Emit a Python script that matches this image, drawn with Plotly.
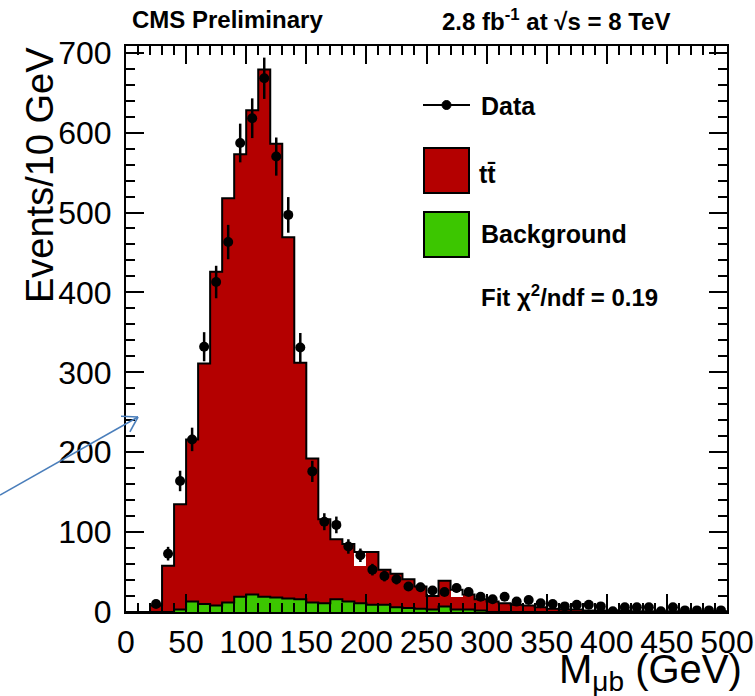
import numpy as np
import plotly.graph_objects as go

# ---------------- data ----------------
bin_edges = list(range(0, 510, 10))          # 0 .. 500 GeV, 10 GeV bins
stack_total = [0, 0, 8, 58, 135, 216, 311, 426, 518, 573,
               628, 679, 586, 469, 312, 192, 116, 91, 85, 75,
               75, 53, 48, 41, 32, 20, 39, 28, 22, 16,
               13, 11, 9, 8, 6, 4, 3, 3, 2, 2,
               2, 2, 1, 1, 1, 1, 1, 1, 1, 1]
background = [0, 0, 0, 0, 3, 13, 10, 8, 12, 19,
              22, 19, 18, 17, 16, 12, 11, 16, 13, 11,
              9, 9, 6, 5, 4, 3, 7, 3, 3, 2,
              0, 0, 0, 0, 0, 0, 0, 0, 0, 0,
              0, 0, 0, 0, 0, 0, 0, 0, 0, 0]
data_counts = [None, None, 10, 73, 164, 216, 332, 413, 463, 587,
               618, 668, 570, 497, 331, 176, 113, 109, 82, 71,
               53, 45, 41, 32, 31, 27, 25, 30, 25, 19,
               16, 19, 13, 15, 11, 10, 7, 9, 9, 7,
               1, 6, 6, 6, 1, 6, 2, 2, 2, 2]
gap_bins = [19, 27]          # bins where the ttbar fill stops below its outline
gap_fill = [57, 19]
x_ticks = [0, 50, 100, 150, 200, 250, 300, 350, 400, 450, 500]
y_ticks = [0, 100, 200, 300, 400, 500, 600, 700]

RED = "#b40000"
GREEN = "#3cc600"
FONT = "Liberation Sans, Arial, sans-serif"

centers = [e + 5 for e in bin_edges[:-1]]
step_x = bin_edges
step_tot = stack_total + [stack_total[-1]]
step_bkg = background + [background[-1]]
errs = [np.sqrt(v) if v is not None else None for v in data_counts]

fig = go.Figure()
fig.add_trace(go.Bar(x=centers, y=stack_total, width=10, marker=dict(color=RED, line=dict(width=0)),
                     hoverinfo="skip"))
fig.add_trace(go.Bar(x=[centers[i] for i in gap_bins],
                     y=[stack_total[i] - f for i, f in zip(gap_bins, gap_fill)],
                     base=gap_fill, width=10, marker=dict(color="white", line=dict(width=0)),
                     hoverinfo="skip"))
fig.add_trace(go.Bar(x=centers, y=background, width=10, marker=dict(color=GREEN, line=dict(width=0)),
                     hoverinfo="skip"))
fig.add_trace(go.Scatter(x=step_x, y=step_tot, mode="lines", line=dict(shape="hv", color="black", width=2)))
fig.add_trace(go.Scatter(x=step_x, y=step_bkg, mode="lines", line=dict(shape="hv", color="black", width=2)))
fig.add_trace(go.Scatter(x=centers, y=data_counts, mode="markers",
                         marker=dict(color="black", size=10, symbol="circle"),
                         error_y=dict(type="data", array=errs, visible=True, thickness=2.5, width=0,
                                      color="black")))

# ---------------- layout geometry ----------------
W, H = 755, 696
L, R, T, B = 126, 727, 46, 612


def px(x):
    return (x - L) / (R - L)


def py(y):
    return (B - y) / (B - T)


shapes = []
# legend: data line + marker
shapes.append(dict(type="line", xref="paper", yref="paper", x0=px(423), x1=px(470), y0=py(105), y1=py(105),
                   line=dict(color="black", width=2)))
shapes.append(dict(type="circle", xref="paper", yref="paper", x0=px(442), x1=px(451), y0=py(109.5), y1=py(100.5),
                   fillcolor="black", line=dict(color="black", width=1)))
shapes.append(dict(type="rect", xref="paper", yref="paper", x0=px(424), x1=px(469), y0=py(193), y1=py(148),
                   fillcolor=RED, line=dict(color="black", width=2)))
shapes.append(dict(type="rect", xref="paper", yref="paper", x0=px(424), x1=px(469), y0=py(257), y1=py(212),
                   fillcolor=GREEN, line=dict(color="black", width=2)))

# blue arrow (annotation drawn on the slide)
tail = np.array([0.0, 495.0])
tip = np.array([138.0, 417.0])
d = (tip - tail) / np.linalg.norm(tip - tail)
ARROW = "#4a7ebb"
shapes.append(dict(type="line", xref="paper", yref="paper", x0=px(tail[0]), y0=py(tail[1]),
                   x1=px(tip[0]), y1=py(tip[1]), line=dict(color=ARROW, width=1.5)))
for ang in (np.radians(32), -np.radians(32)):
    rot = np.array([[np.cos(ang), -np.sin(ang)], [np.sin(ang), np.cos(ang)]])
    back = rot @ (-d) * 17
    p = tip + back
    shapes.append(dict(type="line", xref="paper", yref="paper", x0=px(tip[0]), y0=py(tip[1]),
                       x1=px(p[0]), y1=py(p[1]), line=dict(color=ARROW, width=1.6)))

annotations = [
    dict(text="<b>CMS Preliminary</b>", x=px(130), y=py(20), xanchor="left", yanchor="middle",
         font=dict(family=FONT, size=24, color="black")),
    dict(text="<b>2.8 fb<sup>-1</sup> at √s = 8 TeV</b>", x=px(440), y=py(20), xanchor="left", yanchor="middle",
         font=dict(family=FONT, size=24, color="black")),
    dict(text="<b>Data</b>", x=px(479), y=py(106), xanchor="left", yanchor="middle",
         font=dict(family=FONT, size=25, color="black")),
    dict(text="<b>tt\u0304</b>", x=px(477), y=py(174), xanchor="left", yanchor="middle",
         font=dict(family=FONT, size=25, color="black")),
    dict(text="<b>Background</b>", x=px(479), y=py(234), xanchor="left", yanchor="middle",
         font=dict(family=FONT, size=25, color="black")),
    dict(text="<b>Fit χ<sup>2</sup>/ndf = 0.19</b>", x=px(479), y=py(296), xanchor="left", yanchor="middle",
         font=dict(family=FONT, size=24, color="black")),
    dict(text="M<sub>μb</sub> (GeV)", x=px(744), y=py(672), xanchor="right", yanchor="middle",
         font=dict(family=FONT, size=40, color="black")),
    dict(text="Events/10 GeV", x=px(40), y=py(45), xanchor="center", yanchor="top", textangle=-90,
         font=dict(family=FONT, size=38, color="black")),
]
for a in annotations:
    a.update(xref="paper", yref="paper", showarrow=False)

axis_common = dict(showline=True, linecolor="black", linewidth=2, mirror="allticks", ticks="inside",
                   tickcolor="black", tickwidth=1.5, ticklen=18, showgrid=False, zeroline=False,
                   automargin=False, tickangle=0, tickfont=dict(family=FONT, size=32, color="black"))

fig.update_layout(
    width=W, height=H, autosize=False,
    margin=dict(l=L, r=W - R, t=T, b=H - B, autoexpand=False),
    paper_bgcolor="white", plot_bgcolor="white",
    barmode="overlay", bargap=0, showlegend=False,
    shapes=shapes, annotations=annotations,
    xaxis=dict(range=[0, 500], tickvals=x_ticks, ticktext=[str(v) for v in x_ticks],
               minor=dict(dtick=10, tick0=0, ticks="inside", ticklen=9, tickcolor="black", tickwidth=1.5),
               ticklabelstandoff=1, **axis_common),
    yaxis=dict(range=[0, 708.4], tickvals=y_ticks, ticktext=[str(v) for v in y_ticks],
               minor=dict(dtick=20, tick0=0, ticks="inside", ticklen=9, tickcolor="black", tickwidth=1.5),
               ticklabelstandoff=6, **axis_common),
)

page_fix = ("var h=document.documentElement,b=document.body;"
            "h.style.margin='0';h.style.padding='0';h.style.overflow='hidden';"
            "b.style.margin='0';b.style.padding='0';b.style.overflow='hidden';")
fig.write_html("out.html", config={"displayModeBar": False}, post_script=page_fix)
